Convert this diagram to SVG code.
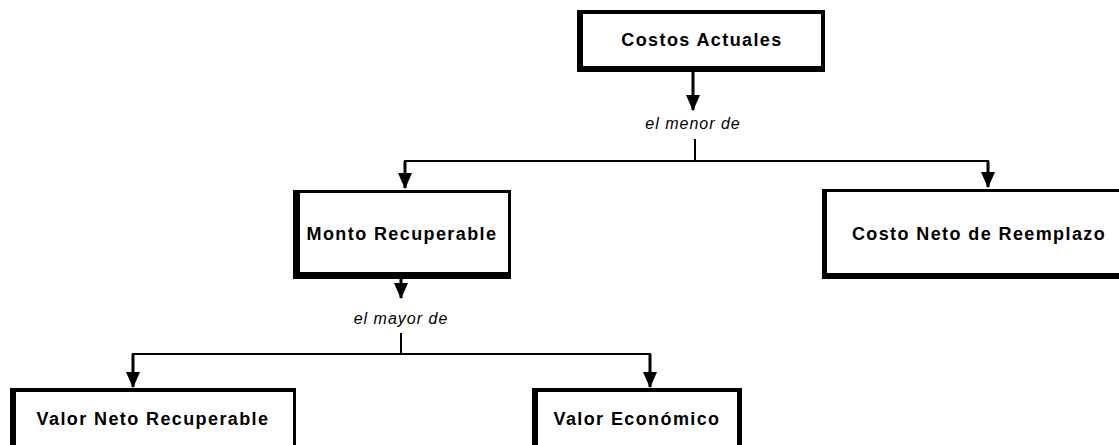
<svg xmlns="http://www.w3.org/2000/svg" width="1119" height="445" viewBox="0 0 1119 445">
<style>
.frame{fill:#000}
.inner{fill:#fff}
.lbl{font-family:"Liberation Sans",Arial,sans-serif;font-weight:bold;font-size:18px;letter-spacing:1.4px;fill:#000;text-anchor:middle}
.op{font-family:"Liberation Sans",Arial,sans-serif;font-style:italic;font-size:16px;letter-spacing:1px;fill:#000;text-anchor:middle}
.ln{stroke:#000;stroke-width:2;fill:none}
.sh{stroke:#000;stroke-width:3;fill:none}
</style>
<defs>
<marker id="ah" markerUnits="userSpaceOnUse" markerWidth="16" markerHeight="14" viewBox="0 0 16 14" refX="15" refY="7" orient="auto">
<path d="M0,0 L16,7 L0,14 Z" fill="#000"/>
</marker>
</defs>
<rect width="1119" height="445" fill="#fff"/>
<g id="connectors">
<line class="sh" x1="693" y1="72" x2="693" y2="110" marker-end="url(#ah)"/>
<line class="ln" x1="695" y1="139" x2="695" y2="162"/>
<polyline class="ln" points="405,170 405,161 988,161 988,170"/>
<line class="sh" x1="405" y1="161" x2="405" y2="188" marker-end="url(#ah)"/>
<line class="sh" x1="988" y1="161" x2="988" y2="187" marker-end="url(#ah)"/>
<line class="sh" x1="401" y1="279" x2="401" y2="298" marker-end="url(#ah)"/>
<line class="ln" x1="401" y1="333" x2="401" y2="355"/>
<polyline class="ln" points="133,364 133,354 650,354 650,364"/>
<line class="sh" x1="133" y1="354" x2="133" y2="387" marker-end="url(#ah)"/>
<line class="sh" x1="650" y1="354" x2="650" y2="387" marker-end="url(#ah)"/>
<text class="op" x="693" y="129">el menor de</text>
<text class="op" x="401" y="324">el mayor de</text>
</g>
<g id="costos-actuales">
<rect class="frame" x="577" y="10" width="248" height="62"/>
<rect class="inner" x="583" y="14" width="238" height="52"/>
<text class="lbl" x="702" y="46">Costos Actuales</text>
</g>
<g id="monto-recuperable">
<rect class="frame" x="293" y="190" width="218" height="89"/>
<rect class="inner" x="300" y="193" width="208" height="79"/>
<text class="lbl" x="402" y="240">Monto Recuperable</text>
</g>
<g id="costo-neto-reemplazo">
<rect class="frame" x="822" y="189" width="310" height="90"/>
<rect class="inner" x="827" y="192" width="310" height="81"/>
<text class="lbl" x="979" y="240">Costo Neto de Reemplazo</text>
</g>
<g id="valor-neto-recuperable">
<rect class="frame" x="10" y="388" width="286" height="70"/>
<rect class="inner" x="16" y="392" width="277" height="70"/>
<text class="lbl" x="153" y="425">Valor Neto Recuperable</text>
</g>
<g id="valor-economico">
<rect class="frame" x="532" y="388" width="210" height="70"/>
<rect class="inner" x="538" y="392" width="199" height="70"/>
<text class="lbl" x="637" y="425">Valor Económico</text>
</g>
</svg>
